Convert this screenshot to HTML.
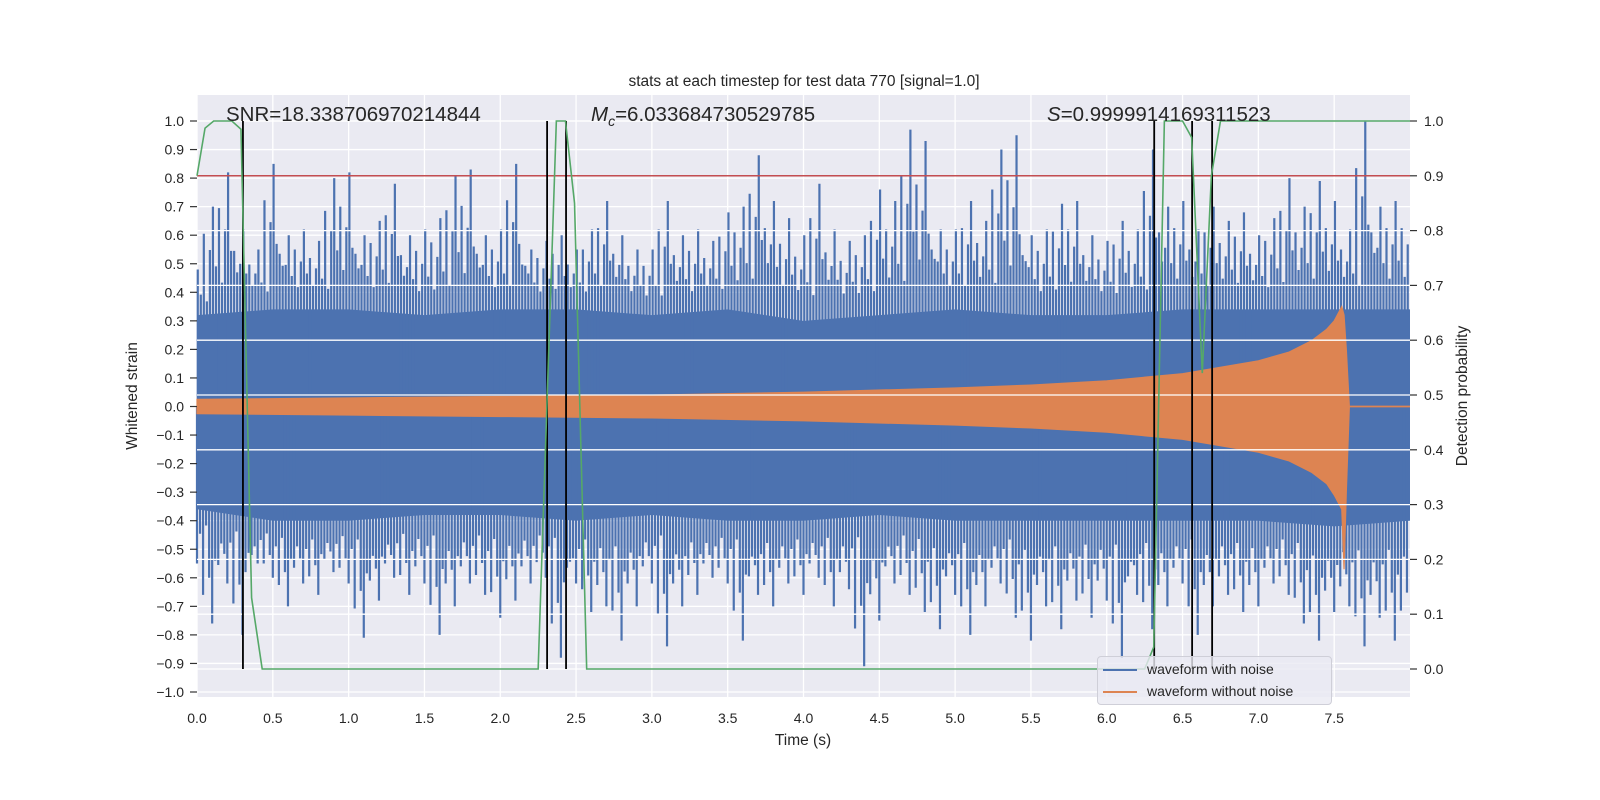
<!DOCTYPE html>
<html><head><meta charset="utf-8"><style>
html,body{margin:0;padding:0;background:#fff;}
svg{display:block;font-family:"Liberation Sans","DejaVu Sans",sans-serif;}
</style></head><body>
<svg id="chart" width="1600" height="800" viewBox="0 0 1600 800" xmlns="http://www.w3.org/2000/svg"></svg>
<script>
// ---- data ----
const xTicks = [0,0.5,1,1.5,2,2.5,3,3.5,4,4.5,5,5.5,6,6.5,7,7.5];
const yLeftTicks = [-1,-0.9,-0.8,-0.7,-0.6,-0.5,-0.4,-0.3,-0.2,-0.1,0,0.1,0.2,0.3,0.4,0.5,0.6,0.7,0.8,0.9,1];
const yRightTicks = [0,0.1,0.2,0.3,0.4,0.5,0.6,0.7,0.8,0.9,1];
// noisy waveform: per-0.1s peak values
const noisyPeakTop = [0.48,0.70,0.82,0.62,0.55,0.85,0.60,0.62,0.58,0.80,
 0.82,0.60,0.65,0.78,0.60,0.62,0.66,0.81,0.83,0.60,
 0.62,0.85,0.55,0.58,0.60,0.55,0.62,0.72,0.60,0.55,
 0.55,0.72,0.60,0.62,0.58,0.68,0.70,0.88,0.72,0.66,
 0.60,0.78,0.62,0.58,0.60,0.76,0.72,0.97,0.93,0.62,
 0.62,0.72,0.65,0.90,0.95,0.60,0.62,0.71,0.72,0.60,
 0.58,0.65,0.62,0.90,0.70,0.72,0.62,0.70,0.65,0.68,
 0.60,0.66,0.80,0.70,0.79,0.72,0.62,1.00,0.70,0.72];
const noisyPeakBot = [-0.55,-0.76,-0.62,-0.80,-0.55,-0.60,-0.70,-0.62,-0.66,-0.58,
 -0.62,-0.81,-0.68,-0.60,-0.66,-0.62,-0.80,-0.70,-0.62,-0.66,
 -0.74,-0.68,-0.62,-0.60,-0.88,-0.62,-0.72,-0.70,-0.82,-0.70,
 -0.62,-0.84,-0.70,-0.66,-0.60,-0.62,-0.82,-0.66,-0.70,-0.62,
 -0.66,-0.60,-0.70,-0.64,-0.91,-0.75,-0.62,-0.66,-0.72,-0.78,
 -0.66,-0.80,-0.70,-0.62,-0.74,-0.82,-0.70,-0.78,-0.68,-0.74,
 -0.68,-0.88,-0.66,-0.78,-0.70,-0.62,-0.80,-0.70,-0.66,-0.72,
 -0.70,-0.62,-0.66,-0.76,-0.82,-0.72,-0.70,-0.84,-0.74,-0.82];
// solid band level per 0.5s
const bandTimes = [0,0.5,1,1.5,2,2.5,3,3.5,4,4.5,5,5.5,6,6.5,7,7.5,8];
const bandTop = [0.32,0.34,0.34,0.32,0.34,0.34,0.32,0.34,0.3,0.32,0.34,0.32,0.32,0.34,0.34,0.34,0.34];
const bandBot = [-0.36,-0.4,-0.4,-0.38,-0.38,-0.4,-0.38,-0.4,-0.4,-0.38,-0.4,-0.4,-0.4,-0.4,-0.4,-0.42,-0.4];
// clean chirp envelope
const chirpTimes = [0,1,2,3,4,5,5.5,6,6.5,7,7.2,7.35,7.45,7.5,7.55,7.565,7.58,7.6];
const chirpTop = [0.025,0.03,0.035,0.04,0.05,0.065,0.075,0.09,0.115,0.16,0.19,0.23,0.27,0.30,0.35,0.32,0.2,0];
const chirpBot = [-0.025,-0.03,-0.035,-0.04,-0.05,-0.065,-0.075,-0.09,-0.115,-0.16,-0.19,-0.23,-0.27,-0.31,-0.36,-0.57,-0.3,0];
// detection probability
const probTimes = [0,0.053,0.11,0.23,0.29,0.36,0.43,2.25,2.37,2.43,2.49,2.57,6.25,6.31,6.38,6.5,6.56,6.63,6.69,6.75,8.0];
const probValues = [0.9,0.987,1.0,1.0,0.985,0.13,0.0,0.0,1.0,1.0,0.85,0.0,0.0,0.04,1.0,1.0,0.97,0.54,0.9,1.0,1.0];
const vlineTimes = [0.303,2.309,2.434,6.313,6.563,6.695];
const threshold = 0.9;

// ---- axes ----
const X0=197, X1=1410, T0=0, T1=8.0;
const x = t => X0 + (t-T0)/(T1-T0)*(X1-X0);
const yL = v => 406.5 - v*285.5;
const yR = p => 669 - p*548;
const PT=95, PB=697;
const subFrac=[0.45,0.75,0.3,0.6]; // visual sub-spike styling

const NS='http://www.w3.org/2000/svg';
const svg=document.getElementById('chart');
function el(tag, attrs, parent){
  const e=document.createElementNS(NS,tag);
  for(const k in attrs) e.setAttribute(k,attrs[k]);
  (parent||svg).appendChild(e); return e;
}
function txt(s, attrs, parent){ const e=el('text',attrs,parent); e.textContent=s; return e; }

const bg=el('rect',{x:X0,y:PT,width:X1-X0,height:PB-PT,fill:'#eaeaf2'});



const gGrid=el('g',{});


xTicks.forEach(t=>el('line',{x1:x(t),x2:x(t),y1:PT,y2:PB,stroke:'#fff','stroke-width':1.3},gGrid));
yLeftTicks.forEach(v=>el('line',{x1:X0,x2:X1,y1:yL(v),y2:yL(v),stroke:'#fff','stroke-width':1.3},gGrid));

// noisy waveform
const gNoise=el('g',{});


let d='M'+x(bandTimes[0])+','+yL(bandTop[0]);
bandTimes.forEach((t,i)=>{d+=' L'+x(t)+','+yL(bandTop[i]);});
for(let i=bandTimes.length-1;i>=0;i--) d+=' L'+x(bandTimes[i])+','+yL(bandBot[i]);
d+='Z';
el('path',{d:d,fill:'#4c72b0'},gNoise);
function bandAt(arr,t){const i=Math.min(arr.length-1,Math.round(t/0.5));return arr[i];}
function drawSpikes(peaks, bandArr, offset, name){
  peaks.forEach((v,i)=>{
    const t=(i+offset)*0.1;
    const s=el('line',{x1:x(t),x2:x(t),y1:yL(0),y2:yL(v),stroke:'#4c72b0','stroke-width':2.2},gNoise);
    
    
    const b=bandAt(bandArr,t);
    const nb=peaks[Math.min(peaks.length-1,i+1)];
    subFrac.forEach((f,k)=>{
      const ts=Math.min(7.99,t+(k+1)*0.02);
      const pk=(k%2===0)?v:nb;
      const h=b+(pk-b)*f;
      el('line',{x1:x(ts),x2:x(ts),y1:yL(0),y2:yL(h),stroke:'#4c72b0','stroke-width':2.2},gNoise);
    });
  });
}
drawSpikes(noisyPeakTop,bandTop,0.05,'noise-peak');
drawSpikes(noisyPeakBot,bandBot,0.0,'noise-trough');

// clean chirp
let dc='M'+x(chirpTimes[0])+','+yL(chirpTop[0]);
chirpTimes.forEach((t,i)=>{dc+=' L'+x(t)+','+yL(chirpTop[i]);});
for(let i=chirpTimes.length-1;i>=0;i--) dc+=' L'+x(chirpTimes[i])+','+yL(chirpBot[i]);
dc+='Z';
const chirp=el('path',{d:dc,fill:'#dd8452',stroke:'#dd8452','stroke-width':1.2});


const tail=el('line',{x1:x(chirpTimes[chirpTimes.length-1]),x2:X1,y1:yL(0),y2:yL(0),stroke:'#dd8452','stroke-width':1.8});



const gGrid2=el('g',{});


yRightTicks.forEach(p=>el('line',{x1:X0,x2:X1,y1:yR(p),y2:yR(p),stroke:'#fff','stroke-width':1.3},gGrid2));

const thr=el('line',{x1:X0,x2:X1,y1:yR(threshold),y2:yR(threshold),stroke:'#c44e52','stroke-width':1.5});



vlineTimes.forEach(t=>{
  const l=el('line',{x1:x(t),x2:x(t),y1:yR(1),y2:yR(0),stroke:'#000','stroke-width':1.8});
  
  
});

const pts=probTimes.map((t,i)=>x(t)+','+yR(probValues[i])).join(' ');
const prob=el('polyline',{points:pts,fill:'none',stroke:'#55a868','stroke-width':1.6});



const tc='#262626';
const gx=el('g',{});


xTicks.forEach(t=>{
  txt(t.toFixed(1),{x:x(t),y:723,'text-anchor':'middle','font-size':14,fill:tc},gx);
});
const gl=el('g',{});


yLeftTicks.forEach(v=>{
  el('line',{x1:190,x2:197,y1:yL(v),y2:yL(v),stroke:'#333','stroke-width':1.2},gl);
  txt((Math.abs(v)<1e-9?0:v).toFixed(1).replace('-','\u2212'),{x:184,y:yL(v)+5,'text-anchor':'end','font-size':14,fill:tc},gl);
});
const gr=el('g',{});


yRightTicks.forEach(p=>{
  el('line',{x1:1410,x2:1417,y1:yR(p),y2:yR(p),stroke:'#333','stroke-width':1.2},gr);
  txt(p.toFixed(1),{x:1424,y:yR(p)+5,'font-size':14,fill:tc},gr);
});

function T(s,a,name){const e=document.createElementNS(NS,'text');for(const k in a)e.setAttribute(k,a[k]);e.innerHTML=s;svg.appendChild(e);


return e;}
T('stats at each timestep for test data 770 [signal=1.0]',{x:804,y:86,'text-anchor':'middle','font-size':15.5,fill:'#262626'},'chart-title');
T('Time (s)',{x:803,y:745,'text-anchor':'middle','font-size':15.5,fill:'#262626'},'x-axis-title');
T('Whitened strain',{x:137,y:396,'text-anchor':'middle','font-size':15.5,fill:'#262626',transform:'rotate(-90 137 396)'},'y-axis-title');
T('Detection probability',{x:1467,y:396,'text-anchor':'middle','font-size':15.5,fill:'#262626',transform:'rotate(-90 1467 396)'},'y2-axis-title');
T('SNR=18.338706970214844',{x:226,y:121,'font-size':20.5,fill:'#262626'},'snr-annotation');
T('<tspan font-style="italic">M</tspan><tspan font-style="italic" font-size="14" dy="5">c</tspan><tspan dy="-5">=6.033684730529785</tspan>',{x:591,y:121,'font-size':20.5,fill:'#262626'},'chirp-mass-annotation');
T('<tspan font-style="italic">S</tspan>=0.9999914169311523',{x:1047,y:121,'font-size':20.5,fill:'#262626'},'score-annotation');
</script>
<div style="position:absolute;left:1097px;top:656px;width:235px;height:49px;background:rgba(234,234,242,0.8);border:1px solid #cfcfd8;border-radius:4px;font-family:'Liberation Sans',sans-serif;font-size:14px;color:#262626;box-sizing:border-box;">
  <div style="position:absolute;left:5px;top:4px;white-space:nowrap;"><span style="display:inline-block;width:34px;height:2px;background:#4c72b0;vertical-align:middle;margin-right:10px;"></span>waveform with noise</div>
  <div style="position:absolute;left:5px;top:26px;white-space:nowrap;"><span style="display:inline-block;width:34px;height:2px;background:#dd8452;vertical-align:middle;margin-right:10px;"></span>waveform without noise</div>
</div>
</body></html>
